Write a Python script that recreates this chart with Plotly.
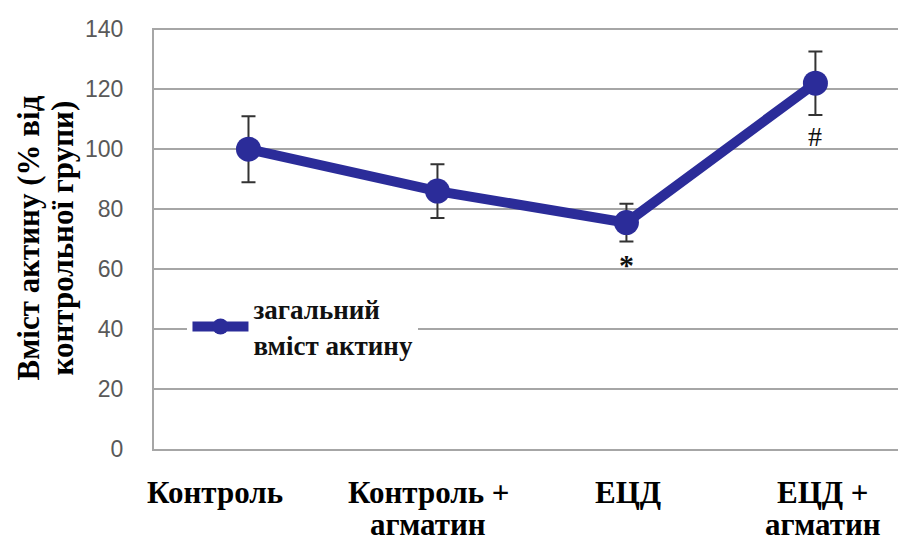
import plotly.graph_objects as go

# Groups and actin content (% of control group), with error bars
groups = [["Контроль"], ["Контроль +", "агматин"], ["ЕЦД"], ["ЕЦД +", "агматин"]]
actin = [100, 86, 75.5, 122]
actin_err = [11, 9, 6.3, 10.6]
marks = ["", "", "*", "#"]
y_ticks = [0, 20, 40, 60, 80, 100, 120, 140]
y_title = ["Вміст актину (% від", "контрольної групи)"]

xpos = [i + 0.5 for i in range(len(groups))]
blue = "#2B2C99"
serif = "Liberation Serif"

fig = go.Figure()
fig.add_trace(go.Scatter(
    x=xpos, y=actin,
    mode="lines+markers",
    name="<b>загальний<br>вміст актину</b>",
    line=dict(color=blue, width=10),
    marker=dict(color=blue, size=25, symbol="circle"),
    error_y=dict(type="data", array=actin_err, visible=True,
                 color="#333333", thickness=2, width=7),
))

# significance marks under the points
for x, y, e, m in zip(xpos, actin, actin_err, marks):
    if m:
        fig.add_annotation(
            x=x, y=y - e, yshift=-4, text=("<b>*</b>" if m == "*" else m),
            showarrow=False, yanchor="top",
            font=dict(family=serif, size=30 if m == "*" else 28, color="#111"),
        )

# category labels below the axis, one annotation per text line
label_shift = [-33, -9, 2, 8]
for x, lines, s in zip(xpos, groups, label_shift):
    for k, txt in enumerate(lines):
        fig.add_annotation(
            x=x, y=0, xref="x", yref="y", yshift=-43 - 32 * k, xshift=s,
            text="<b>" + txt + "</b>", showarrow=False, yanchor="middle",
            font=dict(family=serif, size=31, color="#000"),
        )

# rotated y-axis title, two lines
for k, txt in enumerate(y_title):
    fig.add_annotation(
        xref="paper", yref="paper", x=0, y=0.5, xshift=-126 + 34 * k,
        text="<b>" + txt + "</b>", textangle=-90, showarrow=False,
        xanchor="center", yanchor="middle",
        font=dict(family=serif, size=31, color="#000"),
    )

fig.update_layout(
    width=898, height=542,
    margin=dict(l=154, r=0, t=28, b=93),
    plot_bgcolor="white", paper_bgcolor="white",
    font=dict(family=serif),
    showlegend=True,
    legend=dict(
        x=0.045, y=0.29, xanchor="left", yanchor="middle",
        bgcolor="white", itemwidth=56,
        font=dict(family=serif, size=27, color="#111"),
        traceorder="normal",
    ),
    xaxis=dict(
        range=[0, 3.937], showgrid=False, showticklabels=False,
        zeroline=False, showline=True, linecolor="#A6A6A6", linewidth=2,
        ticks="",
    ),
    yaxis=dict(
        range=[0, 140.4], tickvals=y_ticks, showgrid=True,
        gridcolor="#A6A6A6", gridwidth=2, zeroline=False,
        showline=True, linecolor="#A6A6A6", linewidth=2,
        ticks="", ticklabelstandoff=24,
        tickfont=dict(family="Liberation Sans", size=23, color="#595959"),
    ),
)

fig.write_html("out.html")
